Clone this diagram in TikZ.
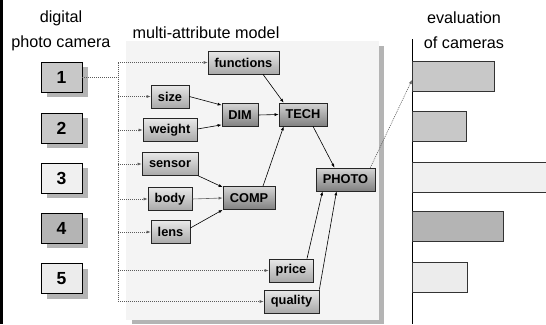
\documentclass[tikz,border=0pt]{standalone}
\usepackage{fontspec}
\setmainfont{Liberation Sans}
\usetikzlibrary{arrows.meta,shadows}
\definecolor{shadowgray}{RGB}{180,180,180}
\definecolor{panelgray}{RGB}{244,244,244}
\definecolor{boxA}{RGB}{200,200,200}
\definecolor{boxB}{RGB}{240,240,240}
\definecolor{boxC}{RGB}{180,180,180}
\definecolor{boxD}{RGB}{236,236,236}
\definecolor{dotgray}{RGB}{90,90,90}
\begin{document}
\begin{tikzpicture}[x=1pt,y=-1pt,
  title/.style={font=\fontsize{16.2}{25}\selectfont, align=center, inner sep=0pt},
  cam/.style={draw=black, line width=0.8pt, minimum width=41pt, minimum height=30pt, inner sep=0pt,
    font=\fontsize{17.5}{17.5}\selectfont\bfseries,
    drop shadow={shadow xshift=6pt, shadow yshift=-5pt, fill=shadowgray, opacity=1}},
  attr/.style={draw=black!85, line width=0.7pt, inner sep=0pt, minimum height=23pt,
    top color={rgb,255:red,232;green,232;blue,232}, bottom color={rgb,255:red,168;green,168;blue,168},
    font=\fontsize{12.8}{13}\selectfont\bfseries},
  agg/.style={attr, top color={rgb,255:red,212;green,212;blue,212}, bottom color={rgb,255:red,128;green,128;blue,128}},
  bar/.style={draw=black!80, line width=0.8pt, minimum height=30pt, inner sep=0pt, anchor=west},
  dots/.style={draw=dotgray, line width=0.6pt, dash pattern=on 1pt off 1pt},
  tip/.style={-{Latex[length=4pt,width=3pt]}},
  arr/.style={draw=black, line width=0.6pt, tip}
]
\useasboundingbox (0,0) rectangle (546,324);
% left border
\draw[line width=2.5pt] (1.25,0) -- (1.25,324);
% model panel
\fill[shadowgray] (132,46) rectangle (384,324);
\fill[panelgray] (126,40.5) rectangle (379,320);
% titles
\node[title] (tcam) at (61,30.5) {digital\\photo camera};
\node[title] (tmodel) at (206,33) {multi-attribute model};
\node[title] (teval) at (464,30.5) {evaluation\\of cameras};
% cameras
\node[cam, fill=boxA] (c1) at (61.5,77) {1};
\node[cam, fill=boxA] (c2) at (61.5,128) {2};
\node[cam, fill=boxB] (c3) at (61.5,178) {3};
\node[cam, fill=boxC] (c4) at (61.5,228) {4};
\node[cam, fill=boxD] (c5) at (61.5,278.5) {5};
% attribute nodes
\node[attr, minimum width=71pt] (functions) at (243.5,62.5) {functions};
\node[attr, minimum width=38pt] (size) at (170,96.5) {size};
\node[attr, minimum width=54pt] (weight) at (170,130) {weight};
\node[attr, minimum width=56pt] (sensor) at (170,164) {sensor};
\node[attr, minimum width=44pt] (body) at (170,199) {body};
\node[attr, minimum width=39pt] (lens) at (170.5,232) {lens};
\node[attr, minimum width=44pt] (price) at (291,270.5) {price};
\node[attr, minimum width=55pt] (quality) at (291.5,301.5) {quality};
% aggregate nodes
\node[agg, minimum width=36pt] (DIM) at (240,115) {DIM};
\node[agg, minimum width=48pt] (TECH) at (303,114.5) {TECH};
\node[agg, minimum width=52pt] (COMP) at (249,198) {COMP};
\node[agg, minimum width=59pt] (PHOTO) at (345.5,179.5) {PHOTO};
% evaluation axis and bars
\coordinate (axtop) at (412,39);
\coordinate (axbot) at (412,324);
\draw[line width=0.9pt] (axtop) -- (axbot);
\node[bar, fill=boxA, minimum width=82pt] (b1) at (412,76) {};
\node[bar, fill=boxA, minimum width=54pt] (b2) at (412,126) {};
\node[bar, fill=boxB, minimum width=134pt] (b3) at (412,177) {};
\node[bar, fill=boxC, minimum width=91pt] (b4) at (412,226) {};
\node[bar, fill=boxD, minimum width=55pt] (b5) at (412,277) {};
% dotted distribution lines
\coordinate (spine) at (118,0);
\draw[dots] (c1.east) -- (spine |- c1.east);
\draw[dots] (spine |- functions.west) -- (spine |- quality.west);
\foreach \n in {functions,size,weight,sensor,body,lens,price,quality}{
  \draw[dots, tip] (spine |- \n.west) -- (\n.west);
}
% solid arrows
\draw[arr] ([xshift=19.5pt]functions.south) -- ([xshift=5pt]TECH.north west);
\draw[arr] (size.east) -- ([yshift=-2pt]DIM.north west);
\draw[arr] ([yshift=1pt]weight.east) -- ([yshift=2pt]DIM.south west);
\draw[arr] (DIM.east) -- (TECH.west);
\draw[arr] (sensor.south east) -- ([yshift=-1pt]COMP.north west);
\draw[arr, draw=black!60] (body.east) -- (COMP.west);
\draw[arr] ([yshift=4pt]lens.east) -- (COMP.south west);
\draw[arr] ([xshift=14pt]COMP.north) -- ([xshift=5pt]TECH.south west);
\draw[arr] ([xshift=10pt]TECH.south) -- ([xshift=-11pt]PHOTO.north);
\draw[arr] ([xshift=16pt]price.north) -- ([xshift=-23pt]PHOTO.south);
\draw[arr] (quality.north east) -- ([xshift=-9pt]PHOTO.south);
\draw[dots, tip] ([xshift=-5pt]PHOTO.north east) -- ([yshift=-4pt]b1.west);
\end{tikzpicture}
\end{document}
